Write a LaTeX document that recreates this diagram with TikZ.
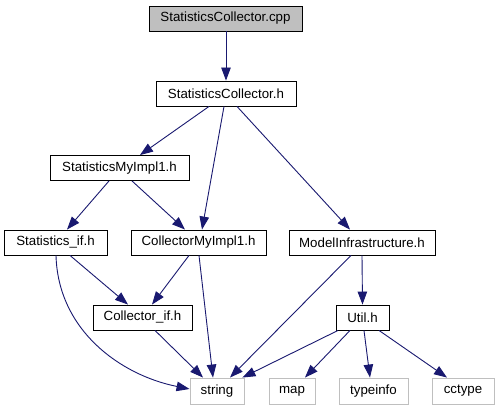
\documentclass[tikz,border=0pt]{standalone}
\usepackage{fontspec}
\setmainfont{Liberation Sans}
\usetikzlibrary{arrows.meta}
\definecolor{edgeblue}{HTML}{191970}
\definecolor{greyfill}{HTML}{BFBFBF}
\definecolor{leafgrey}{HTML}{BFBFBF}
\begin{document}
\begin{tikzpicture}[x=1pt,y=-1pt,
  box/.style={draw=black,line width=0.9pt,fill=white,inner sep=0pt,minimum height=25pt,font=\fontsize{13.3}{16}\selectfont},
  rootbox/.style={box,fill=greyfill},
  leaf/.style={box,draw=leafgrey},
  edge/.style={draw=edgeblue,line width=0.9pt,-{Triangle[length=13pt,width=9.5pt]}}]
\useasboundingbox (0,0) rectangle (499,411);
\fill[white] (0,0) rectangle (499,411);
\node[rootbox,minimum width=153pt] (cpp) at (225.5,18.5) {StatisticsCollector.cpp};
\node[box,minimum width=140pt] (sch) at (226,93.5) {StatisticsCollector.h};
\node[box,minimum width=139pt] (smi) at (119.5,168) {StatisticsMyImpl1.h};
\node[box,minimum width=103pt] (sif) at (55.5,242.5) {Statistics\_if.h};
\node[box,minimum width=135pt] (cmi) at (198.5,242.5) {CollectorMyImpl1.h};
\node[box,minimum width=146pt] (mi) at (362,242.5) {ModelInfrastructure.h};
\node[box,minimum width=99pt] (cif) at (142.5,317.5) {Collector\_if.h};
\node[box,minimum width=53pt] (util) at (362.5,317.5) {Util.h};
\node[leaf,minimum width=54pt,minimum height=26pt] (str) at (217,391) {string};
\node[leaf,minimum width=46pt,minimum height=26pt] (map) at (292,391) {map};
\node[leaf,minimum width=69pt,minimum height=26pt] (ti) at (373.5,391) {typeinfo};
\node[leaf,minimum width=62pt,minimum height=26pt] (cc) at (463,391) {cctype};

\draw[edge] ([xshift=0.5pt]cpp.south) -- (sch.north);
\draw[edge] ([xshift=-17pt]sch.south) -- ([xshift=20.5pt]smi.north);
\draw[edge] ([xshift=-2pt]sch.south) -- ([xshift=3.5pt]cmi.north);
\draw[edge] ([xshift=11pt]sch.south) -- ([xshift=-12pt]mi.north);
\draw[edge] ([xshift=-10.5pt]smi.south) -- ([xshift=11.5pt]sif.north);
\draw[edge] ([xshift=12.5pt]smi.south) -- ([xshift=-13.5pt]cmi.north);
\draw[edge] ([xshift=14.5pt]sif.south) -- ([xshift=-14.5pt]cif.north);
\draw[edge] ([xshift=0.5pt]sif.south) .. controls (58,330) and (120,375) .. ([yshift=2pt]str.west);
\draw[edge] ([xshift=-9.5pt]cmi.south) -- ([xshift=9.5pt]cif.north);
\draw[edge] ([xshift=0.5pt]cmi.south) -- ([xshift=-4pt]str.north);
\draw[edge] ([xshift=12.5pt]cif.south) -- ([xshift=-14pt]str.north);
\draw[edge] ([xshift=-11pt]mi.south) -- ([xshift=13pt]str.north);
\draw[edge] (mi.south) -- (util.north);
\draw[edge] ([xshift=-24.5pt]util.south) -- ([xshift=-2pt]str.north east);
\draw[edge] ([xshift=-12.5pt]util.south) -- ([xshift=13pt]map.north);
\draw[edge] ([xshift=1.5pt]util.south) -- ([xshift=-3.5pt]ti.north);
\draw[edge] ([xshift=16.5pt]util.south) -- ([xshift=-16pt]cc.north);
\end{tikzpicture}
\end{document}
